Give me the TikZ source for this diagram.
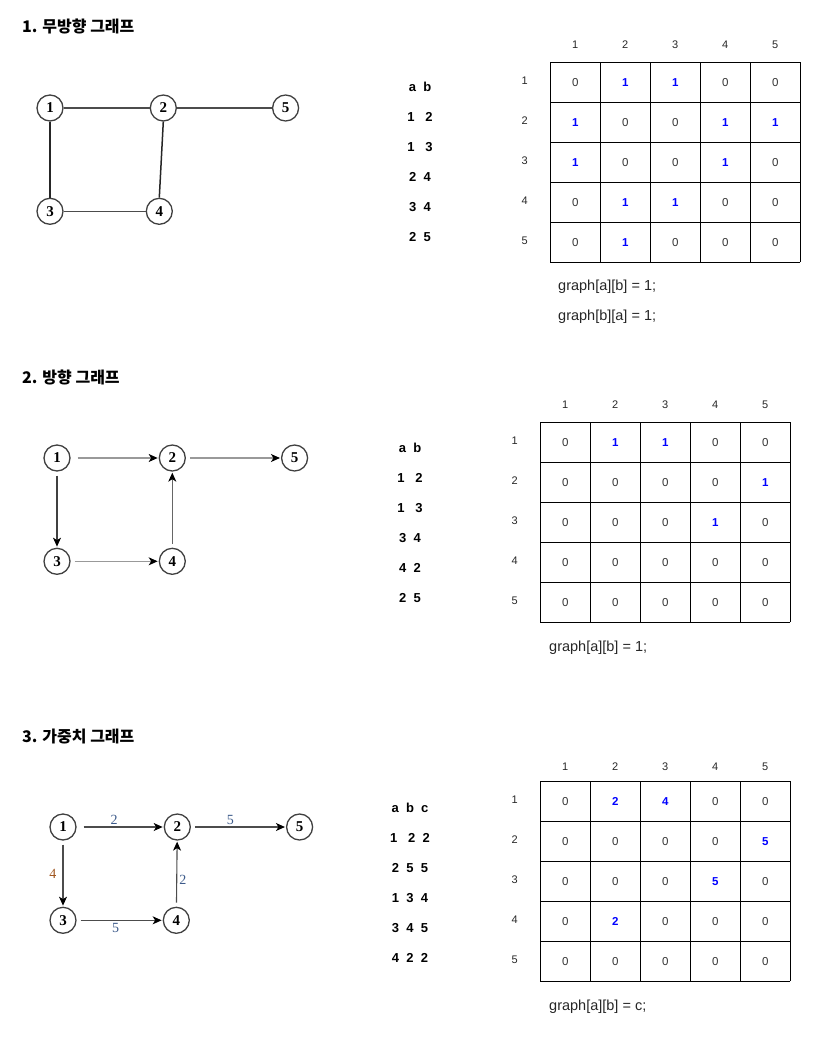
\documentclass[tikz,border=0pt]{standalone}
\usepackage{fontspec}
\setmainfont{Liberation Sans}
\newfontfamily\kofont{Noto Sans CJK KR}
\newfontfamily\numfont{Liberation Serif}
\usetikzlibrary{matrix,positioning,arrows.meta}

\definecolor{wtblue}{HTML}{3C5A8A}
\definecolor{wtbrown}{HTML}{A0561E}

\tikzset{
  title/.style={anchor=west, inner sep=0pt, font=\kofont\bfseries\fontsize{16}{16}\selectfont},
  vtx/.style={circle, draw=black!75, line width=1.3pt, minimum size=26pt, inner sep=0pt,
    font=\numfont\bfseries\fontsize{15}{15}\selectfont},
  ln/.style={draw=black!70, line width=1.5pt},
  arc/.style={-{Stealth[length=9pt,width=8pt,inset=2.5pt,black]}, line width=1.1pt, shorten <=4pt, shorten >=1pt},
  wt/.style={font=\numfont\fontsize{14}{14}\selectfont, text=wtblue, inner sep=2pt},
  pair/.style={font=\bfseries\fontsize{13}{13}\selectfont, inner sep=0pt},
  hdr/.style={font=\fontsize{11}{11}\selectfont, text=black!85, inner sep=0pt,
    text height=8pt, text depth=0pt},
  cell/.style={minimum width=50pt, minimum height=40pt, inner sep=0pt,
    font=\fontsize{11.5}{11.5}\selectfont, text=black!80},
  one/.style={text=blue, font=\bfseries\fontsize{11.5}{11.5}\selectfont},
  adjm/.style={matrix of nodes, nodes={cell}, inner sep=0pt, anchor=north west,
    column sep=0pt, row sep=0pt},
  gridln/.style={line width=0.9pt},
  code/.style={anchor=west, inner sep=0pt, font=\fontsize{14.5}{14.5}\selectfont, text=black!85}
}

\begin{document}
\begin{tikzpicture}[x=1pt,y=-1pt]
  \useasboundingbox (0,0) rectangle (818,1047);

  % 1. undirected
  \node[title] (t1) at (22,26) {1. 무방향 그래프};
  \node[vtx] (a1) at (50,108) {1};
  \node[vtx, right=86pt of a1] (a2) {2};
  \node[vtx, right=95pt of a2] (a5) {5};
  \node[vtx, below=76pt of a1] (a3) {3};
  \node[vtx, right=82pt of a3] (a4) {4};
  \draw[ln] (a1) -- (a2);
  \draw[ln] (a2) -- (a5);
  \draw[ln, draw=black!85] (a1) -- (a3);
  \draw[ln, draw=black!85] (a2.south) -- (a4.north);
  \draw[ln] (a3) -- (a4);

  \foreach \p [count=\k from 0] in {a~~b, 1~~~2, 1~~~3, 2~~4, 3~~4, 2~~5}
    \node[pair] (ea-\k) at (420,87+30*\k) {\p};

  \matrix (ma) [adjm] at (550,62) {
    0 & |[one]| 1 & |[one]| 1 & 0 & 0 \\
    |[one]| 1 & 0 & 0 & |[one]| 1 & |[one]| 1 \\
    |[one]| 1 & 0 & 0 & |[one]| 1 & 0 \\
    0 & |[one]| 1 & |[one]| 1 & 0 & 0 \\
    0 & |[one]| 1 & 0 & 0 & 0 \\
  };
  \draw[gridln, shift={(ma.north west)}] (0,0) grid[xstep=50pt,ystep=40pt] (250,200);
  \foreach \i in {1,...,5} {
    \node[hdr, above=13pt of ma-1-\i] (ca-\i) {\i};
    \node[hdr, left=22pt of ma-\i-1, yshift=2pt] (ra-\i) {\i};
  }
  \node[code] (ga-1) at (558,287) {graph[a][b] = 1;};
  \node[code] (ga-2) at (558,317) {graph[b][a] = 1;};

  % 2. directed
  \node[title] (t2) at (22,377) {2. 방향 그래프};
  \node[vtx] (b1) at (57,458) {1};
  \node[vtx, right=88pt of b1] (b2) {2};
  \node[vtx, right=95pt of b2] (b5) {5};
  \node[vtx, below=76pt of b1] (b3) {3};
  \node[vtx, right=88pt of b3] (b4) {4};
  \draw[arc, draw=black!40, shorten <=7pt] (b1) -- (b2);
  \draw[arc, draw=black!40] (b2) -- (b5);
  \draw[arc, draw=black!75] (b1) -- (b3);
  \draw[arc, draw=black!40] (b3) -- (b4);
  \draw[arc, draw=black!60] (b4) -- (b2);

  \foreach \p [count=\k from 0] in {a~~b, 1~~~2, 1~~~3, 3~~4, 4~~2, 2~~5}
    \node[pair] (eb-\k) at (410,448+30*\k) {\p};

  \matrix (mb) [adjm] at (540,422) {
    0 & |[one]| 1 & |[one]| 1 & 0 & 0 \\
    0 & 0 & 0 & 0 & |[one]| 1 \\
    0 & 0 & 0 & |[one]| 1 & 0 \\
    0 & 0 & 0 & 0 & 0 \\
    0 & 0 & 0 & 0 & 0 \\
  };
  \draw[gridln, shift={(mb.north west)}] (0,0) grid[xstep=50pt,ystep=40pt] (250,200);
  \foreach \i in {1,...,5} {
    \node[hdr, above=13pt of mb-1-\i] (cb-\i) {\i};
    \node[hdr, left=22pt of mb-\i-1, yshift=2pt] (rb-\i) {\i};
  }
  \node[code] (gb-1) at (549,648) {graph[a][b] = 1;};

  % 3. weighted
  \node[title] (t3) at (22,736) {3. 가중치 그래프};
  \node[vtx] (c1) at (63,827) {1};
  \node[vtx, right=87pt of c1] (c2) {2};
  \node[vtx, right=95pt of c2] (c5) {5};
  \node[vtx, below=66pt of c1] (c3) {3};
  \node[vtx, right=86pt of c3] (c4) {4};
  \draw[arc, draw=black!70, shorten <=7pt] (c1) -- node[wt, above, xshift=-6pt] (w12) {2} (c2);
  \draw[arc, draw=black!70] (c2) -- node[wt, above, xshift=-8pt] (w25) {5} (c5);
  \draw[arc, draw=black!70] (c1) -- node[wt, left, text=wtbrown, xshift=-4pt] (w13) {4} (c3);
  \draw[arc, draw=black!70] (c3) -- node[wt, below, xshift=-4pt] (w34) {5} (c4);
  \draw[arc, draw=black!70] (c4) -- node[wt, right, yshift=-6pt] (w42) {2} (c2);

  \foreach \p [count=\k from 0] in {a~~b~~c, 1~~~2~~2, 2~~5~~5, 1~~3~~4, 3~~4~~5, 4~~2~~2}
    \node[pair] (ec-\k) at (410,808+30*\k) {\p};

  \matrix (mc) [adjm] at (540,781) {
    0 & |[one]| 2 & |[one]| 4 & 0 & 0 \\
    0 & 0 & 0 & 0 & |[one]| 5 \\
    0 & 0 & 0 & |[one]| 5 & 0 \\
    0 & |[one]| 2 & 0 & 0 & 0 \\
    0 & 0 & 0 & 0 & 0 \\
  };
  \draw[gridln, shift={(mc.north west)}] (0,0) grid[xstep=50pt,ystep=40pt] (250,200);
  \foreach \i in {1,...,5} {
    \node[hdr, above=10pt of mc-1-\i] (cc-\i) {\i};
    \node[hdr, left=22pt of mc-\i-1, yshift=2pt] (rc-\i) {\i};
  }
  \node[code] (gc-1) at (549,1007) {graph[a][b] = c;};
\end{tikzpicture}
\end{document}
